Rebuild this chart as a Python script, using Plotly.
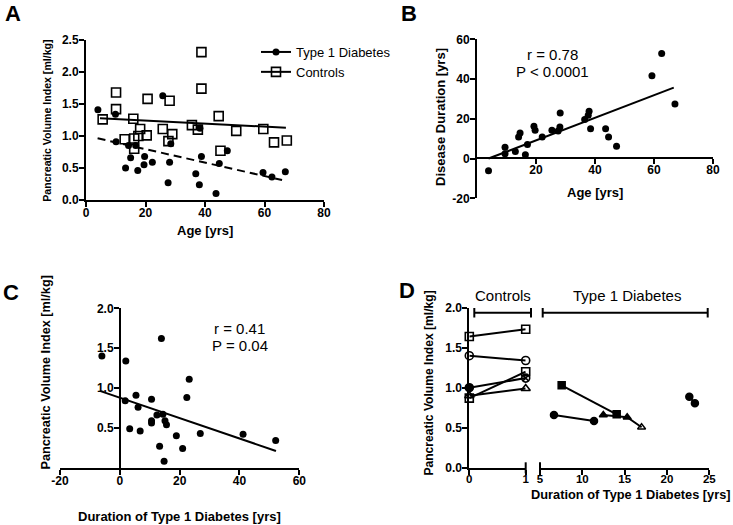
import plotly.graph_objects as go

# ---------------- DATA ----------------
# Panel A
ctrl_age = [5.6, 10.1, 10.1, 13.0, 15.9, 16.2, 16.2, 17.6, 18.2, 20.4, 20.7, 25.8, 28.1, 27.7, 29.0,
            35.6, 37.6, 38.8, 38.8, 44.6, 45.2, 50.5, 59.6, 63.2, 67.5]
ctrl_pvi = [1.26, 1.68, 1.42, 0.95, 1.27, 0.96, 0.80, 1.00, 1.11, 1.01, 1.58, 1.11, 1.55, 0.92, 1.03,
            1.17, 1.10, 2.31, 1.74, 1.31, 0.77, 1.08, 1.11, 0.90, 0.93]
t1d_age = [4.0, 9.9, 10.1, 13.3, 14.3, 15.0, 16.7, 17.4, 19.7, 19.5, 22.3, 25.8, 27.6, 28.1, 28.5,
           36.9, 38.1, 38.3, 38.8, 43.7, 44.8, 47.5, 59.5, 62.5, 67.0]
t1d_pvi = [1.41, 1.34, 0.91, 0.50, 0.85, 0.66, 0.85, 0.46, 0.68, 0.55, 0.59, 1.63, 0.27, 0.59, 0.88,
           0.41, 0.24, 1.12, 0.68, 0.10, 0.57, 0.77, 0.43, 0.36, 0.44]
ctrl_fit_x = [4.7, 67.2]
ctrl_fit_y = [1.276, 1.13]
t1d_fit_x = [3.9, 65.9]
t1d_fit_y = [0.964, 0.312]
a_xticks = [0, 20, 40, 60, 80]
a_yticks = [0, 0.5, 1.0, 1.5, 2.0, 2.5]

# Panel B
b_age = [3.9, 9.5, 9.5, 13.0, 14.1, 14.6, 16.4, 17.1, 19.3, 19.7, 22.1, 25.4, 27.5, 28.1, 28.2,
         36.5, 37.7, 38.0, 38.5, 43.6, 44.6, 47.3, 59.3, 62.6, 67.1]
b_dur = [-6.1, 5.7, 2.4, 3.5, 10.8, 12.8, 1.9, 7.1, 16.2, 14.2, 10.8, 14.2, 13.8, 15.9, 22.9,
         19.6, 21.8, 23.8, 15.0, 15.0, 10.8, 6.2, 41.7, 52.8, 27.5]
b_fit_x = [3.9, 66.7]
b_fit_y = [0.0, 35.7]
b_xticks = [20, 40, 60, 80]
b_yticks = [-20, 0, 20, 40, 60]

# Panel C
c_dur = [-6.0, 2.0, 1.8, 3.3, 5.4, 6.1, 6.8, 10.6, 10.6, 10.6, 12.4, 13.3, 13.9, 14.4, 14.8, 15.1,
         15.6, 18.9, 21.0, 22.4, 23.2, 26.9, 41.2, 52.1]
c_pvi = [1.40, 1.34, 0.84, 0.49, 0.91, 0.76, 0.46, 0.86, 0.59, 0.56, 0.66, 0.27, 1.62, 0.67, 0.08, 0.59,
         0.54, 0.40, 0.24, 0.88, 1.11, 0.43, 0.42, 0.34]
c_fit_x = [-6.7, 52.2]
c_fit_y = [0.964, 0.21]
c_xticks = [-20, 0, 20, 40, 60]
c_yticks = [0.5, 1.0, 1.5, 2.0]

# Panel D
d_ctrl_visits = [0, 1]
d_ctrl_pvi = [[1.64, 1.73], [1.40, 1.34], [0.87, 1.20], [1.00, 1.12], [0.90, 0.99]]
d_ctrl_symbols = [["square-open", "square-open"], ["circle-open", "circle-open"],
                  ["square-open", "square-open"], ["circle", "circle-x-open"],
                  ["triangle-up-open", "triangle-up-open"]]
d_t1d_dur = [[7.56, 14.06], [12.48, 15.3, 17.0], [6.65, 11.38], [22.64, 23.3]]
d_t1d_pvi = [[1.03, 0.667], [0.659, 0.63, 0.505], [0.66, 0.584], [0.888, 0.805]]
d_t1d_symbols = [["square", "square"], ["triangle-up", "triangle-up", "triangle-up-open"],
                 ["circle", "circle"], ["circle", "circle"]]
d_left_xticks = [0, 1]
d_right_xticks = [5, 10, 15, 20, 25]
d_yticks = [0, 0.5, 1.0, 1.5, 2.0]

# ---------------- LAYOUT HELPERS ----------------
W, H = 733, 525
FONT = "Liberation Sans, Arial, sans-serif"


def px(x):
    return x / W


def py(y):
    return 1 - y / H


def bold_ticks(vals, fmt="{:g}"):
    return dict(tickmode="array", tickvals=vals, ticktext=["<b>" + fmt.format(v) + "</b>" for v in vals])


def axis_style(standoff, size=12, **kw):
    d = dict(showline=True, linewidth=2, linecolor="black", ticks="outside", ticklen=5,
             tickwidth=2, tickcolor="black", showgrid=False, zeroline=False, automargin=False,
             ticklabelstandoff=standoff,
             tickfont=dict(family=FONT, size=size, color="black"))
    d.update(kw)
    return d


XS, YS = -4, -2

fig = go.Figure()

dot = dict(color="black", size=7)
sq = dict(symbol="square-open", color="black", size=9, line=dict(color="black", width=1.6))

# Panel A
fig.add_trace(go.Scatter(x=ctrl_age, y=ctrl_pvi, mode="markers", marker=sq, xaxis="x", yaxis="y",
                         showlegend=False, cliponaxis=False))
fig.add_trace(go.Scatter(x=t1d_age, y=t1d_pvi, mode="markers", marker=dot, xaxis="x", yaxis="y",
                         showlegend=False, cliponaxis=False))
fig.add_trace(go.Scatter(x=ctrl_fit_x, y=ctrl_fit_y, mode="lines", line=dict(color="black", width=2),
                         xaxis="x", yaxis="y", showlegend=False))
fig.add_trace(go.Scatter(x=t1d_fit_x, y=t1d_fit_y, mode="lines",
                         line=dict(color="black", width=2, dash="8px,5px"),
                         xaxis="x", yaxis="y", showlegend=False))
# legend entries
fig.add_trace(go.Scatter(x=[None], y=[None], mode="lines+markers", name="Type 1 Diabetes",
                         marker=dot, line=dict(color="black", width=2), xaxis="x", yaxis="y"))
fig.add_trace(go.Scatter(x=[None], y=[None], mode="lines+markers", name="Controls",
                         marker=sq, line=dict(color="black", width=2), xaxis="x", yaxis="y"))

# Panel B
fig.add_trace(go.Scatter(x=b_age, y=b_dur, mode="markers", marker=dot, xaxis="x2", yaxis="y2",
                         showlegend=False, cliponaxis=False))
fig.add_trace(go.Scatter(x=b_fit_x, y=b_fit_y, mode="lines", line=dict(color="black", width=2),
                         xaxis="x2", yaxis="y2", showlegend=False))

# Panel C
fig.add_trace(go.Scatter(x=c_dur, y=c_pvi, mode="markers", marker=dot, xaxis="x3", yaxis="y3",
                         showlegend=False, cliponaxis=False))
fig.add_trace(go.Scatter(x=c_fit_x, y=c_fit_y, mode="lines", line=dict(color="black", width=2),
                         xaxis="x3", yaxis="y3", showlegend=False))

# Panel D controls
for vals, syms in zip(d_ctrl_pvi, d_ctrl_symbols):
    fig.add_trace(go.Scatter(x=d_ctrl_visits, y=vals, mode="lines+markers",
                             line=dict(color="black", width=2),
                             marker=dict(symbol=syms, size=8, color="black",
                                         line=dict(color="black", width=1.6)),
                             xaxis="x4", yaxis="y4", showlegend=False, cliponaxis=False))

# Panel D type 1 diabetes
for xs, ys, syms in zip(d_t1d_dur, d_t1d_pvi, d_t1d_symbols):
    fig.add_trace(go.Scatter(x=xs, y=ys, mode="lines+markers", line=dict(color="black", width=2),
                             marker=dict(symbol=syms, size=7, color="black",
                                         line=dict(color="black", width=1.5)),
                             xaxis="x5", yaxis="y4", showlegend=False, cliponaxis=False))

layout = dict(
    width=W, height=H, autosize=False,
    margin=dict(l=0, r=0, t=0, b=0, pad=0, autoexpand=False),
    paper_bgcolor="white", plot_bgcolor="rgba(0,0,0,0)",
    font=dict(family=FONT, color="black"),
    showlegend=True,
    legend=dict(x=px(256), y=py(37), xanchor="left", yanchor="top",
                font=dict(family=FONT, size=13, color="black"), bgcolor="rgba(0,0,0,0)",
                tracegroupgap=0, itemwidth=30),
    xaxis=axis_style(XS, domain=[px(86), px(324)], range=[0, 80], anchor="y", **bold_ticks(a_xticks)),
    yaxis=axis_style(YS, domain=[py(200), py(40)], range=[0, 2.5], anchor="x",
                     **bold_ticks(a_yticks, "{:.1f}")),
    xaxis2=axis_style(XS, domain=[px(477), px(713)], range=[0, 80], anchor="free", position=py(158),
                      **bold_ticks(b_xticks)),
    yaxis2=axis_style(YS, domain=[py(198.3), py(39.3)], range=[-20, 60], anchor="x2",
                      **bold_ticks(b_yticks)),
    xaxis3=axis_style(XS, domain=[px(60), px(299.3)], range=[-20, 60], anchor="y3", **bold_ticks(c_xticks)),
    yaxis3=axis_style(YS, domain=[py(467.7), py(308.3)], range=[0, 2], anchor="free", position=px(120),
                      **bold_ticks(c_yticks, "{:.1f}")),
    xaxis4=axis_style(-6, 11.5, domain=[px(469.3), px(525.7)], range=[0, 1], anchor="y4",
                      **bold_ticks(d_left_xticks)),
    yaxis4=axis_style(YS, domain=[py(467.7), py(307.7)], range=[0, 2], anchor="x4",
                      **bold_ticks(d_yticks, "{:.1f}")),
    xaxis5=axis_style(-6, 11.5, domain=[px(540), px(709.3)], range=[5, 25], anchor="y4",
                      **bold_ticks(d_right_xticks)),
)
fig.update_layout(**layout)


# ---------------- TEXT ----------------
def ann(text, x, y, size, bold=False, angle=0):
    fig.add_annotation(text=("<b>" + text + "</b>") if bold else text, x=px(x), y=py(y),
                       xref="paper", yref="paper", showarrow=False,
                       xanchor="center", yanchor="middle", textangle=angle,
                       font=dict(family=FONT, size=size, color="black"))


ann("A", 13, 14, 22, True)
ann("B", 408.5, 13, 22, True)
ann("C", 11, 292, 22, True)
ann("D", 406.5, 290, 22, True)

ann("Age [yrs]", 205, 231, 13, True)
ann("Pancreatic Volume Index [ml/kg]", 46.7, 121, 10.6, True, -90)
ann("Age [yrs]", 594.5, 192.3, 13, True)
ann("Disease Duration [yrs]", 440, 117, 13, True, -90)
ann("Duration of Type 1 Diabetes [yrs]", 179.3, 516.7, 13, True)
ann("Pancreatic Volume Index [ml/kg]", 45, 372.5, 12.7, True, -90)
ann("Duration of Type 1 Diabetes [yrs]", 631, 494, 12.8, True)
ann("Pancreatic Volume Index [ml/kg]", 429.3, 383.3, 12.1, True, -90)

ann("r = 0.78", 552.5, 54, 15)
ann("P < 0.0001", 552, 71.7, 15)
ann("r = 0.41", 239.5, 328.3, 15)
ann("P = 0.04", 240, 345.8, 15)

ann("Controls", 503, 295, 15)
ann("Type 1 Diabetes", 626.7, 295, 15)


# range bars in panel D and axis end caps
def seg(x0, y0, x1, y1):
    fig.add_shape(type="line", xref="paper", yref="paper", x0=px(x0), y0=py(y0), x1=px(x1), y1=py(y1),
                  line=dict(color="black", width=2))


for (a, b) in [(474.3, 531), (542.7, 707.7)]:
    seg(a, 312.7, b, 312.7)
    seg(a, 308, a, 317.5)
    seg(b, 308, b, 317.5)
seg(525.7, 462.3, 525.7, 473.3)
seg(540, 462.3, 540, 473.3)

fig.write_html("out.html", config={"displayModeBar": False},
               post_script="document.body.style.margin='0';document.body.style.padding='0';")
